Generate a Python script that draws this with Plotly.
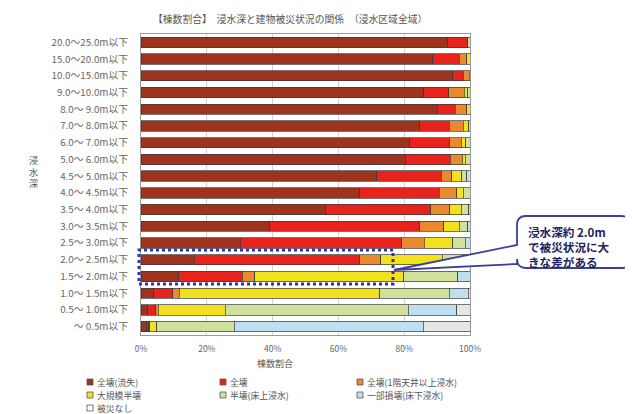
import plotly.graph_objects as go

# ---------------- data ----------------
depth_labels = [
    "20.0～25.0m以下", "15.0～20.0m以下", "10.0～15.0m以下", "9.0～10.0m以下",
    "8.0～\u00a09.0m以下", "7.0～\u00a08.0m以下", "6.0～\u00a07.0m以下", "5.0～\u00a06.0m以下",
    "4.5～\u00a05.0m以下", "4.0～\u00a04.5m以下", "3.5～\u00a04.0m以下", "3.0～\u00a03.5m以下",
    "2.5～\u00a03.0m以下", "2.0～\u00a02.5m以下", "1.5～\u00a02.0m以下", "1.0～\u00a01.5m以下",
    "0.5～\u00a01.0m以下", "～\u00a00.5m以下",
]

series_names = ["全壊(流失)", "全壊", "全壊(1階天井以上浸水)", "大規模半壊",
                "半壊(床上浸水)", "一部損壊(床下浸水)", "被災なし"]

zenkai_ryushitsu = [93.2, 88.7, 94.7, 85.9, 90.1, 84.8, 81.7, 80.3, 71.6, 66.5, 56.1, 39.1, 30.2, 16.2, 11.4, 3.8, 2.0, 1.8]
zenkai = [6.1, 8.0, 3.3, 7.6, 5.4, 8.9, 12.2, 13.7, 19.6, 24.1, 32.0, 45.7, 49.1, 50.3, 19.3, 5.8, 2.5, 0.6]
zenkai_1f = [0, 2.3, 1.7, 4.8, 3.5, 4.2, 3.4, 3.6, 3.3, 5.4, 5.8, 7.2, 6.8, 6.4, 3.8, 2.1, 0.8, 0.3]
daikibo_hankai = [0, 1.0, 0.3, 1.0, 1.0, 1.7, 1.4, 1.0, 3.0, 2.0, 3.4, 4.7, 8.6, 18.6, 45.3, 60.9, 20.3, 2.1]
hankai = [0.7, 0, 0, 0.7, 0, 0.4, 1.3, 1.4, 1.5, 2.0, 2.3, 2.6, 3.9, 6.3, 16.5, 21.1, 55.7, 23.6]
ichibu_sonkai = [0, 0, 0, 0, 0, 0, 0, 0, 1.0, 0, 0.4, 0.7, 1.4, 2.2, 3.7, 5.8, 14.7, 57.4]
hisai_nashi = [0, 0, 0, 0, 0, 0, 0, 0, 0, 0, 0, 0, 0, 0, 0, 0.5, 4.0, 14.2]

x_ticks = [0, 20, 40, 60, 80, 100]
x_tick_labels = ["0%", "20%", "40%", "60%", "80%", "100%"]

callout_lines = ["浸水深約 2.0m", "で被災状況に大", "きな差がある"]

colors = ["#9E3320", "#E8231C", "#EA8A2E", "#F2E21E", "#D0E19C", "#BEDFEE", "#E6E6E6"]

all_series = [zenkai_ryushitsu, zenkai, zenkai_1f, daikibo_hankai, hankai, ichibu_sonkai, hisai_nashi]

FONT = "Noto Sans CJK JP"
W, H = 633, 414
OFF = 8                      # page body margin offset
REF_L, REF_T = 141, 34       # plot area position on screen
PW, PH = 329, 301
ML = REF_L - OFF
MT = REF_T - OFF
MR = W - ML - PW
MB = H - MT - PH


def px(x):
    return (x - REF_L) / PW


def py(y):
    return (REF_T + PH - y) / PH


fig = go.Figure()
for name, vals, col in zip(series_names, all_series, colors):
    fig.add_trace(go.Bar(
        y=depth_labels, x=vals, name=name, orientation="h",
        marker=dict(color=col, line=dict(color="#3a3a3a", width=0.7)),
        showlegend=False,
    ))

fig.update_layout(
    width=W, height=H, barmode="stack", bargap=0.38,
    margin=dict(l=ML, r=MR, t=MT, b=MB),
    paper_bgcolor="white", plot_bgcolor="white",
    font=dict(family=FONT, size=9, color="#555"),
    xaxis=dict(range=[0, 100], tickvals=x_ticks, ticktext=x_tick_labels,
               showgrid=True, gridcolor="#d2d2d2", gridwidth=1,
               showline=True, mirror=True, linecolor="#9a9a9a", linewidth=1,
               zeroline=False, ticks="", ticklabelstandoff=6,
               tickfont=dict(size=8.5, color="#666")),
    yaxis=dict(categoryorder="array", categoryarray=depth_labels, autorange="reversed",
               showline=True, mirror=True, linecolor="#9a9a9a", linewidth=1,
               showgrid=False, ticks="", ticklabelstandoff=10,
               tickfont=dict(size=9.8, color="#666")),
)

ann = []
# title
ann.append(dict(text="【棟数割合】\u3000浸水深と建物被災状況の関係\u3000（浸水区域全域）",
                x=px(290), y=py(19), xref="paper", yref="paper", showarrow=False,
                font=dict(size=9.8, color="#555"), xanchor="center", yanchor="middle"))
# axis titles
ann.append(dict(text="棟数割合", x=px(275), y=py(363), xref="paper", yref="paper",
                showarrow=False, font=dict(size=9, color="#555"), yanchor="middle"))
ann.append(dict(text="浸<br>水<br>深", x=px(27), y=py(172), xref="paper", yref="paper",
                showarrow=False, font=dict(size=9, color="#555")))

shapes = []
# manual legend (3 columns)
leg_cols = [90, 223, 360]
leg_rows = [382, 395, 408]
for i, (name, col) in enumerate(zip(series_names, colors)):
    cx = leg_cols[i % 3]
    cy = leg_rows[i // 3]
    shapes.append(dict(type="rect", xref="paper", yref="paper",
                       x0=px(cx - 3), x1=px(cx + 3), y0=py(cy + 3), y1=py(cy - 3),
                       fillcolor=col if name != "被災なし" else "#ffffff",
                       line=dict(color="#555", width=0.8)))
    ann.append(dict(text=name, x=px(cx + 5), y=py(cy), xref="paper", yref="paper",
                    showarrow=False, xanchor="left", yanchor="middle",
                    font=dict(size=8.8, color="#555")))

# dotted highlight box
shapes.append(dict(type="rect", xref="paper", yref="paper",
                   x0=px(139), x1=px(393), y0=py(284), y1=py(250),
                   line=dict(color="#2f35a8", width=3, dash="dot"), fillcolor="rgba(0,0,0,0)"))

# callout bubble
bx0, bx1, by0, by1, r = 517, 630, 216, 268, 9
tip = (394, 270)
tb_up, tb_lo = 245, 264


def P(x, y):
    return f"{px(x):.5f},{py(y):.5f}"


path = (f"M {P(bx0 + r, by0)} L {P(bx1 - r, by0)} Q {P(bx1, by0)} {P(bx1, by0 + r)} "
        f"L {P(bx1, by1 - r)} Q {P(bx1, by1)} {P(bx1 - r, by1)} "
        f"L {P(bx0 + r, by1)} Q {P(bx0, by1)} {P(bx0, by1 - r)} "
        f"L {P(bx0, tb_lo)} L {P(*tip)} L {P(bx0, tb_up)} "
        f"L {P(bx0, by0 + r)} Q {P(bx0, by0)} {P(bx0 + r, by0)} Z")
shapes.append(dict(type="path", xref="paper", yref="paper", path=path,
                   fillcolor="white", line=dict(color="#3b3f9e", width=1.8)))
ann.append(dict(text="<b>" + "<br>".join(callout_lines) + "</b>",
                x=px(527), y=py(246.5), xref="paper", yref="paper",
                showarrow=False, xanchor="left", yanchor="middle", align="left",
                borderpad=0, font=dict(size=11.6, color="#1d2160", family=FONT)))

# outer frame lines
shapes.append(dict(type="line", xref="paper", yref="paper", x0=px(5), x1=px(5), y0=py(2), y1=py(420),
                   line=dict(color="#bdbdbd", width=1)))
shapes.append(dict(type="line", xref="paper", yref="paper", x0=px(5), x1=px(640), y0=py(2), y1=py(2),
                   line=dict(color="#bdbdbd", width=1)))

fig.update_layout(annotations=ann, shapes=shapes)
fig.write_html("out.html")
